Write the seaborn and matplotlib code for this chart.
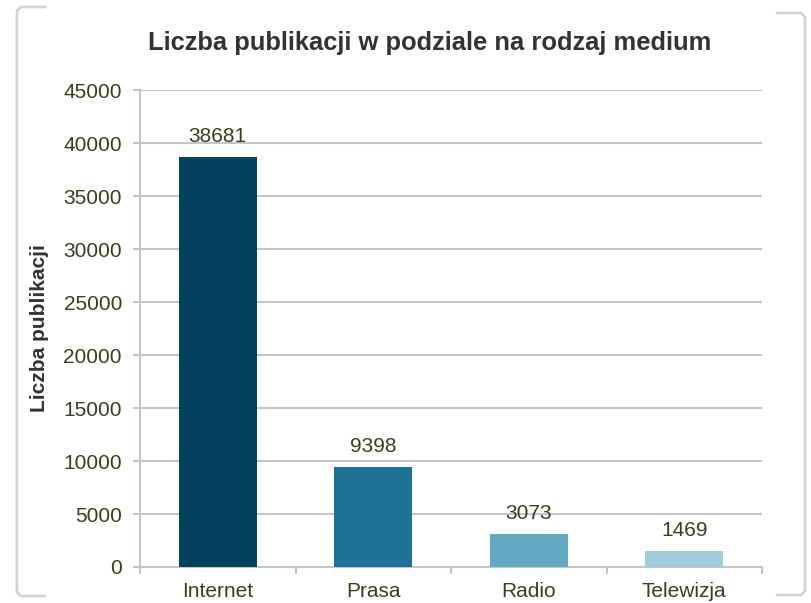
import matplotlib
matplotlib.use("Agg")
import matplotlib.pyplot as plt
from matplotlib.lines import Line2D
import seaborn as sns
import pandas as pd

categories = ["Internet", "Prasa", "Radio", "Telewizja"]
values = [38681, 9398, 3073, 1469]
yticks = [0, 5000, 10000, 15000, 20000, 25000, 30000, 35000, 40000, 45000]
colors = ["#03425F", "#1D7296", "#63A9C4", "#A0CCDC"]

title = "Liczba publikacji w podziale na rodzaj medium"
ylabel = "Liczba publikacji"

sns.set_theme(style="white")
plt.rcParams["font.family"] = ["Liberation Sans", "DejaVu Sans"]

W, H = 812, 603
fig = plt.figure(figsize=(W / 100, H / 100), dpi=100)
ax = fig.add_axes([140 / W, 1 - 567 / H, (762 - 140) / W, (567 - 90) / H])

df = pd.DataFrame({"cat": categories, "val": values})
sns.barplot(data=df, x="cat", y="val", hue="cat", palette=colors,
            width=0.5, legend=False, ax=ax, saturation=1, zorder=3,
            linewidth=0, edgecolor="none")

textc = "#3D3D1C"
gridc = "#C2C6CA"

ax.set_ylim(0, 45000)
ax.set_xlim(-0.5, len(categories) - 0.5)
ax.set_yticks(yticks)
ax.set_yticklabels([str(v) for v in yticks])
ax.yaxis.grid(True, color=gridc, linewidth=1.5, zorder=0)
ax.xaxis.grid(False)
ax.set_axisbelow(True)

for s in ["top", "right"]:
    ax.spines[s].set_visible(False)
for s in ["left", "bottom"]:
    ax.spines[s].set_color(gridc)
    ax.spines[s].set_linewidth(1.5)

ax.tick_params(axis="y", which="major", length=5, width=1.5, color=gridc,
               labelsize=15, labelcolor=textc, pad=8, left=True)
ax.tick_params(axis="x", which="major", length=0, labelsize=15,
               labelcolor=textc, pad=11)
ax.set_xticks([i - 0.5 for i in range(len(categories) + 1)], minor=True)
ax.tick_params(axis="x", which="minor", length=5, width=1.5, color=gridc,
               bottom=True)

ax.set_xlabel("")
ax.set_ylabel(ylabel, fontsize=15, fontweight="bold", color="#333333",
              labelpad=10)

for cont in ax.containers:
    ax.bar_label(cont, labels=[f"{int(v)}" for v in cont.datavalues],
                 padding=8, fontsize=15, color=textc)

fig.text(0.5 * (147 + 712) / W, 1 - 43 / H, title, ha="center", va="center",
         fontsize=18.4, fontweight="bold", color="#333333")

# decorative frame brackets
framec = "#D0D4D8"
def fl(xs, ys):
    fig.add_artist(Line2D([x / W for x in xs], [1 - y / H for y in ys],
                          color=framec, linewidth=2, transform=fig.transFigure,
                          solid_capstyle="round"))
fl([45, 21, 17, 17, 21, 45], [7, 7, 11, 592, 596, 596])
fl([777, 801, 805, 805, 801, 777], [13, 13, 17, 591, 595, 595])

fig.savefig("out.png", dpi=100)
